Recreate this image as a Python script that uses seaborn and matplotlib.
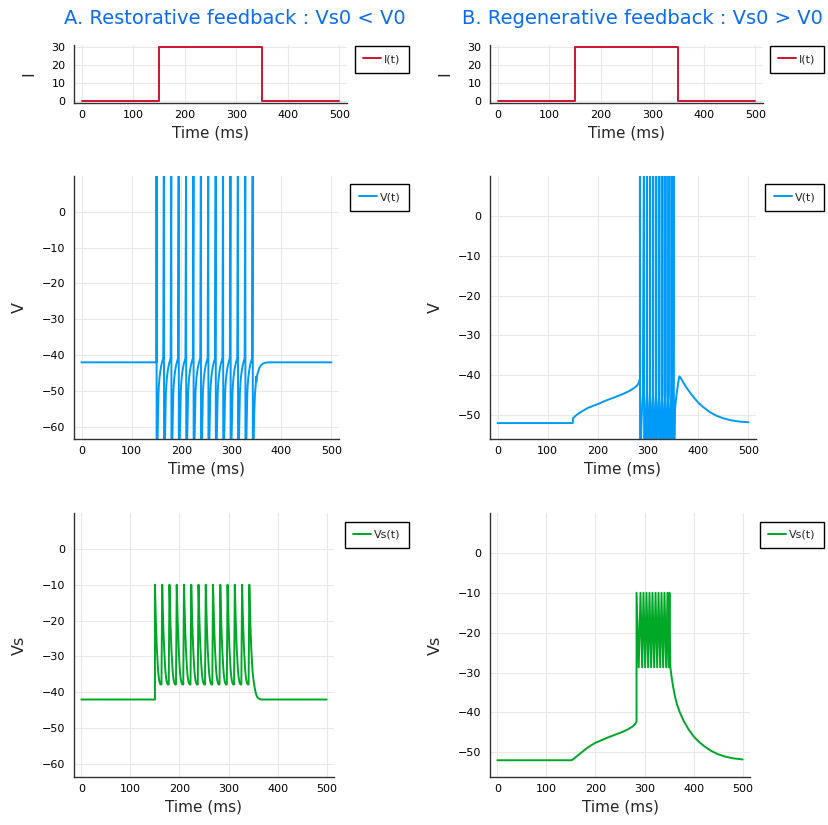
import matplotlib
matplotlib.use("Agg")
import matplotlib.pyplot as plt
import pandas as pd
import seaborn as sns

# ---------------- data ----------------
time_I = [0, 150, 150, 350, 350, 500]
current_I = [0, 0, 30, 30, 0, 0]

# Panel A (restorative feedback)
A_spike_times = [150.0, 164.8, 179.6, 194.4, 209.2, 224.0, 238.8, 253.6,
                 268.4, 283.2, 298.0, 312.8, 327.6, 342.4]
A_pre_t = [0, 150]
A_pre_val = [-42.0, -42.0]
A_V_isi_dt = [0.3, 1.2, 2.0, 2.7, 3.3, 4.0, 5.0, 6.0, 7.5, 9.0, 10.5, 12.0, 13.5]
A_V_isi_val = [-75.0, -70.0, -64.0, -58.0, -53.5, -50.5, -48.0, -46.3, -44.6,
               -43.3, -42.3, -41.5, -40.8]
A_V_after_t = [342.7, 344.5, 345.5, 347.0, 348.5, 349.2, 349.7, 351.0, 352.5,
               355.8, 359.0, 362.4, 368.0, 376.0, 500.0]
A_V_after_val = [-75.0, -63.0, -56.0, -50.6, -48.3, -46.0, -47.4, -45.8, -45.0,
                 -43.6, -42.8, -42.4, -42.1, -42.0, -42.0]
A_Vs_isi_dt = [1.0, 2.0, 3.0, 4.0, 5.0, 6.0, 7.0, 8.0, 9.0, 10.0, 11.5, 13.3]
A_Vs_isi_val = [-15.5, -20.5, -24.5, -28.0, -30.8, -33.0, -34.8, -36.0, -36.9,
                -37.4, -37.8, -37.8]
A_Vs_after_t = [343.4, 344.4, 345.4, 346.4, 347.4, 348.4, 350.0, 352.0, 354.0,
                356.0, 358.0, 361.0, 366.0, 500.0]
A_Vs_after_val = [-15.5, -20.5, -24.5, -28.0, -30.8, -33.0, -35.6, -37.6, -39.2,
                  -40.4, -41.2, -41.7, -42.0, -42.0]

# Panel B (regenerative feedback)
B_spike_times = [283.7, 291.8, 297.9, 304.0, 310.1, 316.2, 322.4, 328.5,
                 334.6, 340.7, 346.8, 350.9]
B_V_pre_t = [0, 150, 150.1, 158, 167.6, 180, 190, 200.8, 215, 234, 250, 262,
             272, 278, 281.5, 283.7]
B_V_pre_val = [-52, -52, -50.8, -49.9, -49.1, -48.2, -47.7, -47.2, -46.4,
               -45.5, -44.7, -44.0, -43.2, -42.6, -41.9, -40.8]
B_V_isi_dt = [0.3, 2.0, 3.0, 4.5, 5.8]
B_V_isi_val = [-75.0, -58.0, -52.0, -47.5, -44.8]
B_V_after_t = [351.2, 353.7, 356.0, 358.3, 360.5, 362.3, 365, 370, 377, 385,
               392, 400, 410, 423.5, 437, 450, 465, 480, 500]
B_V_after_val = [-75, -48.5, -45.5, -43.4, -41.5, -40.3, -40.7, -41.8, -43.2,
                 -44.6, -45.7, -46.9, -48.0, -49.3, -50.2, -50.8, -51.3,
                 -51.6, -51.8]
B_Vs_pre_t = [0, 150, 153, 157, 162, 167, 173, 180, 188, 198.6, 210, 225, 240,
              255, 267, 276, 281, 283.7]
B_Vs_pre_val = [-52, -52, -51.9, -51.5, -51.0, -50.5, -49.9, -49.2, -48.5,
                -47.7, -47.1, -46.3, -45.6, -44.9, -44.2, -43.5, -42.9, -42.3]
B_Vs_peak = -10.0
B_Vs_trough = -28.7
B_Vs_trough_frac = 0.55
B_Vs_after_t = [352.5, 355, 358.4, 362, 366, 372, 380, 390, 400, 410, 422,
                435, 450, 465, 480, 500]
B_Vs_after_val = [-28.5, -31.0, -33.6, -36.0, -37.9, -40.0, -42.2, -44.3,
                  -46.0, -47.3, -48.5, -49.6, -50.5, -51.1, -51.5, -51.8]

V_peak = 20.0  # spikes go beyond the top of the axes

# ---------------- assemble traces ----------------
def spike_train(pre_t, pre_v, spikes, isi_dt, isi_v, peak, after_t, after_v):
    t, v = list(pre_t), list(pre_v)
    for k, ts in enumerate(spikes):
        t.append(ts); v.append(peak)
        if k + 1 < len(spikes):
            nxt = spikes[k + 1]
            for d, val in zip(isi_dt, isi_v):
                if ts + d < nxt - 0.2:
                    t.append(ts + d); v.append(val)
    t += list(after_t); v += list(after_v)
    return t, v

A_V_t, A_V_v = spike_train(A_pre_t, A_pre_val, A_spike_times, A_V_isi_dt,
                           A_V_isi_val, V_peak, A_V_after_t, A_V_after_val)
A_Vs_t, A_Vs_v = spike_train(A_pre_t, A_pre_val, A_spike_times, A_Vs_isi_dt,
                             A_Vs_isi_val, -10.0, A_Vs_after_t, A_Vs_after_val)
B_V_t, B_V_v = spike_train(B_V_pre_t, B_V_pre_val, B_spike_times, B_V_isi_dt,
                           B_V_isi_val, V_peak, B_V_after_t, B_V_after_val)

B_Vs_t, B_Vs_v = list(B_Vs_pre_t), list(B_Vs_pre_val)
for k, ts in enumerate(B_spike_times):
    B_Vs_t.append(ts); B_Vs_v.append(B_Vs_peak)
    if k + 1 < len(B_spike_times):
        B_Vs_t.append(ts + B_Vs_trough_frac * (B_spike_times[k + 1] - ts))
        B_Vs_v.append(B_Vs_trough)
B_Vs_t += B_Vs_after_t; B_Vs_v += B_Vs_after_val

# ---------------- style ----------------
sns.set_theme(style="white")
plt.rcParams['font.family'] = ['DejaVu Sans']

RED = "#CE1430"
BLUE = "#009AF9"
GREEN = "#00A827"
TITLE_BLUE = "#0A6CF2"

W, H = 829, 825
fig = plt.figure(figsize=(W / 100, H / 100), dpi=100)

def rect(x0, x1, y0, y1):
    return [x0 / W, 1 - y1 / H, (x1 - x0) / W, (y1 - y0) / H]

panels = [
    (rect(74, 347, 45, 103), time_I, current_I, RED, "I(t)", "I", (-0.9, 30.9), [0, 10, 20, 30], (409, 46)),
    (rect(74, 339, 176, 439), A_V_t, A_V_v, BLUE, "V(t)", "V", (-63.4, 10), [0, -10, -20, -30, -40, -50, -60], (409, 184)),
    (rect(74, 334, 513, 777), A_Vs_t, A_Vs_v, GREEN, "Vs(t)", "Vs", (-63.6, 10), [0, -10, -20, -30, -40, -50, -60], (409, 521.5)),
    (rect(490, 763, 45, 103), time_I, current_I, RED, "I(t)", "I", (-0.9, 30.9), [0, 10, 20, 30], (824, 46)),
    (rect(490, 756, 176, 439), B_V_t, B_V_v, BLUE, "V(t)", "V", (-56, 10), [0, -10, -20, -30, -40, -50], (824, 184)),
    (rect(490, 750, 513, 777), B_Vs_t, B_Vs_v, GREEN, "Vs(t)", "Vs", (-56.2, 10), [0, -10, -20, -30, -40, -50], (824, 521.5)),
]

for r, t, y, col, lab, ylab, ylim, yt, (lx, ly) in panels:
    ax = fig.add_axes(r)
    df = pd.DataFrame({"t": t, "y": y})
    sns.lineplot(data=df, x="t", y="y", sort=False, estimator=None, ax=ax,
                 color=col, lw=1.4, label=lab)
    ax.set_xlim(-15, 515)
    ax.set_ylim(*ylim)
    ax.set_xticks([0, 100, 200, 300, 400, 500])
    ax.set_yticks(yt)
    ax.grid(True, color="#E9E9E9", lw=0.8)
    ax.set_axisbelow(True)
    for s in ["top", "right"]:
        ax.spines[s].set_visible(False)
    for s in ["left", "bottom"]:
        ax.spines[s].set_color("#333333")
        ax.spines[s].set_linewidth(1.0)
    ax.tick_params(axis="both", direction="in", length=3, width=0.8,
                   color="#333333", labelsize=8, labelcolor="black")
    ax.tick_params(axis="x", pad=5)
    ax.tick_params(axis="y", pad=6)
    ax.set_xlabel("Time (ms)", fontsize=11, labelpad=4)
    ax.set_ylabel(ylab, fontsize=11.5, labelpad=11)
    leg = ax.legend(loc="upper right", bbox_to_anchor=(lx / W, 1 - ly / H),
                    bbox_transform=fig.transFigure, borderaxespad=0,
                    fontsize=8, frameon=True, fancybox=False, framealpha=1,
                    edgecolor="black", handlelength=1.6, borderpad=0.75,
                    handletextpad=0.3)
    leg.get_frame().set_linewidth(1.0)

fig.text(235 / W, 1 - 18 / H, "A. Restorative feedback : Vs0 < V0",
         ha="center", va="center", fontsize=14, color=TITLE_BLUE)
fig.text(642 / W, 1 - 18 / H, "B. Regenerative feedback : Vs0 > V0",
         ha="center", va="center", fontsize=14, color=TITLE_BLUE)

fig.savefig("out.png", dpi=100)
